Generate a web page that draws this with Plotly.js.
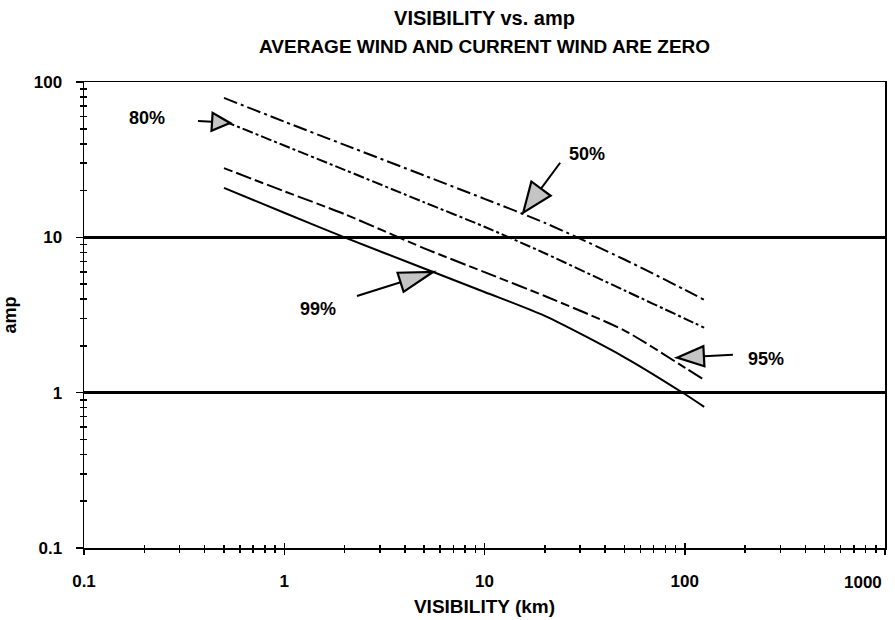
<!DOCTYPE html>
<html><head><meta charset="utf-8">
<script src="https://cdn.plot.ly/plotly-3.0.1.min.js"></script>
<style>html,body{margin:0;padding:0;background:#fff}#chart{width:895px;height:620px}</style>
</head><body><div id="chart"></div>
<script>
// ---- data ----
const visibility = [0.5, 1, 2, 5, 10, 20, 50, 100, 125];
const amp50 = [79, 55.6, 39.4, 25, 17.7, 12.4, 7.2, 4.6, 3.96];
const amp80 = [56, 39, 27.2, 16.8, 11.7, 7.9, 4.55, 3.0, 2.62];
const amp95 = [27.9, 19.8, 14.1, 8.5, 5.97, 4.19, 2.51, 1.45, 1.21];
const amp99 = [20.8, 14.4, 10, 6.3, 4.45, 3.12, 1.69, 0.98, 0.81];
const seriesNames = ['50%', '80%', '95%', '99%'];
const xTickVals = [0.1, 1, 10, 100, 1000];
const xTickText = ['0.1', '1', '10', '100', ''];
const lastXTickText = '1000';
const yTickVals = [0.1, 1, 10, 100];
const yTickText = ['0.1', '1', '10', '100'];
const titleLine1 = 'VISIBILITY vs. amp';
const titleLine2 = 'AVERAGE WIND AND CURRENT WIND ARE ZERO';
const xTitle = 'VISIBILITY (km)';
const yTitle = 'amp';

// ---- geometry ----
const W = 895, H = 620;
const M = {l: 84, r: 10, t: 82, b: 72};
const PL = M.l, PR = W - M.r, PT = M.t, PB = H - M.b;
const XR = [-1, 3], YR = [-1, 2];
const FONT = 'Liberation Sans, Arial, sans-serif';
const TXT = (s) => ({family: FONT, size: s, color: '#000', weight: 'bold'});
function pxX(v){ return PL + (PR-PL)*(Math.log10(v)-XR[0])/(XR[1]-XR[0]); }
function pxY(v){ return PB - (PB-PT)*(Math.log10(v)-YR[0])/(YR[1]-YR[0]); }
function papX(p){ return (p-PL)/(PR-PL); }
function papY(p){ return (PB-p)/(PB-PT); }

const allAmps = [amp50, amp80, amp95, amp99];
const dashes = ['14px,4px,3px,4px', '11px,3px,3px,3px', '9px,4px,16px,4px', 'solid'];
const traces = allAmps.map((a, i) => ({
  x: visibility, y: a, name: seriesNames[i], type: 'scatter', mode: 'lines',
  line: {color: '#000', width: 2, dash: dashes[i], shape: 'spline', smoothing: 0.7},
  hoverinfo: 'x+y+name'
}));
// the last series is drawn on the twin axes (same ranges) so the inner tick set is rendered
traces[3].xaxis = 'x2';
traces[3].yaxis = 'y2';

// label annotations (text position in data units)
const labelPos = [
  {t: '80%', x: 0.206, y: 58.6},
  {t: '50%', x: 32.5, y: 34.4},
  {t: '95%', x: 254.7, y: 1.65},
  {t: '99%', x: 1.47, y: 3.46}
];
// arrows: tip in data units, tail offset in px, head length/half-width in px
const arrowDefs = [
  {tip: [0.536, 54.5], off: [-32, -2], len: 18, half: 9},
  {tip: [15.6, 14.4], off: [37, -50], len: 30, half: 12},
  {tip: [91.4, 1.68], off: [56, -3], len: 27, half: 10},
  {tip: [5.53, 5.98], off: [-76, 24], len: 34, half: 10}
];

const shapes = [];
arrowDefs.forEach(a => {
  const tx = pxX(a.tip[0]), ty = pxY(a.tip[1]);
  const sx = tx + a.off[0], sy = ty + a.off[1];
  const dx = tx - sx, dy = ty - sy, d = Math.hypot(dx, dy);
  const ux = dx/d, uy = dy/d, nx = -uy, ny = ux;
  const bx = tx - a.len*ux, by = ty - a.len*uy;
  shapes.push({type: 'line', xref: 'paper', yref: 'paper', layer: 'above',
    x0: papX(sx), y0: papY(sy), x1: papX(bx), y1: papY(by),
    line: {color: '#000', width: 2}});
  const p1 = [tx, ty], p2 = [bx + a.half*nx, by + a.half*ny], p3 = [bx - a.half*nx, by - a.half*ny];
  const path = 'M' + papX(p1[0]) + ',' + papY(p1[1]) + ' L' + papX(p2[0]) + ',' + papY(p2[1]) +
               ' L' + papX(p3[0]) + ',' + papY(p3[1]) + ' Z';
  shapes.push({type: 'path', xref: 'paper', yref: 'paper', layer: 'above', path: path,
    fillcolor: '#c4c4c4', line: {color: '#000', width: 2.2}});
});

const annotations = labelPos.map(l => ({
  text: l.t, x: Math.log10(l.x), y: Math.log10(l.y), xref: 'x', yref: 'y',
  showarrow: false, font: TXT(18)
}));
annotations.push({text: titleLine2, xref: 'paper', yref: 'paper', x: 0.5, y: papY(46),
  yanchor: 'middle', showarrow: false, font: TXT(19)});
annotations.push({text: lastXTickText, xref: 'paper', yref: 'paper', x: papX(PR - 1), y: papY(582),
  xanchor: 'right', yanchor: 'middle', showarrow: false, font: TXT(17)});

const minorOut = {dtick: 'D1', ticks: 'outside', ticklen: 3, tickwidth: 1.5, tickcolor: '#000', showgrid: false};
const minorIn = {dtick: 'D1', ticks: 'inside', ticklen: 3, tickwidth: 1.5, tickcolor: '#000', showgrid: false};
const layout = {
  width: W, height: H, margin: M, showlegend: false,
  paper_bgcolor: '#fff', plot_bgcolor: '#fff',
  font: TXT(17),
  title: {text: titleLine1, x: 0.5, xref: 'paper', xanchor: 'center', y: 1 - 18/H, yref: 'container', yanchor: 'middle',
          font: TXT(20)},
  xaxis: {type: 'log', range: XR, tickmode: 'array', tickvals: xTickVals, ticktext: xTickText,
    ticks: 'outside', ticklen: 5, tickwidth: 1.5, tickcolor: '#000',
    minor: minorOut,
    showline: true, linecolor: '#000', linewidth: 1.5, mirror: true,
    showgrid: false, zeroline: false, ticklabelstandoff: 12,
    title: {text: xTitle, standoff: 10, font: TXT(19)},
    tickfont: TXT(17), automargin: false},
  yaxis: {type: 'log', range: YR, tickmode: 'array', tickvals: yTickVals, ticktext: yTickText,
    ticks: 'outside', ticklen: 7, tickwidth: 1.5, tickcolor: '#000',
    minor: minorOut,
    showline: true, linecolor: '#000', linewidth: 1.5, mirror: true,
    showgrid: true, gridcolor: '#000', gridwidth: 2.5, zeroline: false, ticklabelstandoff: 10,
    title: {text: yTitle, standoff: 12, font: TXT(18)},
    tickfont: TXT(17), automargin: false},
  xaxis2: {type: 'log', range: XR, overlaying: 'x', anchor: 'y', side: 'bottom',
    tickmode: 'array', tickvals: xTickVals, showticklabels: false,
    ticks: 'inside', ticklen: 5, tickwidth: 1.5, tickcolor: '#000',
    minor: minorIn,
    showline: false, showgrid: false, zeroline: false},
  yaxis2: {type: 'log', range: YR, overlaying: 'y', anchor: 'x', side: 'left',
    tickmode: 'array', tickvals: yTickVals, showticklabels: false,
    ticks: 'inside', ticklen: 4, tickwidth: 1.5, tickcolor: '#000',
    minor: minorIn,
    showline: false, showgrid: false, zeroline: false},
  shapes: shapes,
  annotations: annotations
};
Plotly.newPlot('chart', traces, layout, {displayModeBar: false, staticPlot: true});
</script>
</body></html>
